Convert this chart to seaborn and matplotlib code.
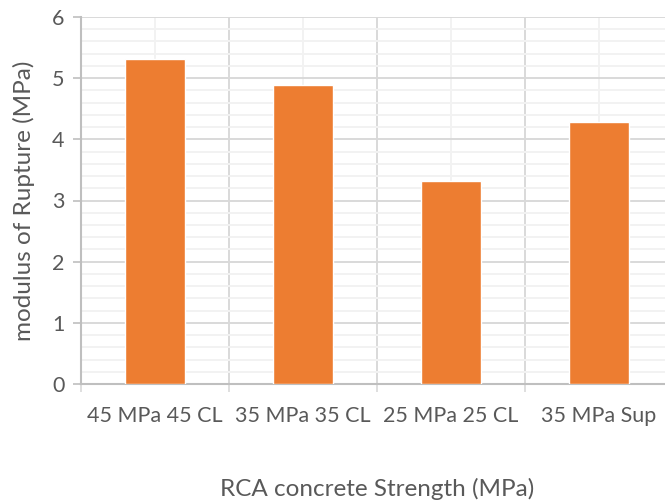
import matplotlib
matplotlib.use("Agg")
import matplotlib.pyplot as plt
from matplotlib.ticker import MultipleLocator, FixedLocator
import seaborn as sns

categories = ["45 MPa 45 CL", "35 MPa 35 CL", "25 MPa 25 CL", "35 MPa Sup"]
rupture_modulus = [5.32, 4.89, 3.32, 4.29]

sns.set_theme(style="white")
plt.rcParams["font.family"] = ["Lato", "DejaVu Sans"]

text_color = "#595959"
major_grid = "#D9D9D9"
minor_grid = "#F2F2F2"
bar_color = "#ED7D31"

fig = plt.figure(figsize=(6.65, 5.0), dpi=100)
ax = fig.add_axes([81 / 665, 1 - 384 / 500, (673 - 81) / 665, (384 - 17) / 500])

sns.barplot(x=categories, y=rupture_modulus, color=bar_color, saturation=1,
            width=0.4, ax=ax, zorder=3)

ax.set_xlim(-0.5, len(categories) - 0.5)
ax.set_ylim(0, 6)

# y: integer majors, fifths as minors
ax.yaxis.set_major_locator(MultipleLocator(1))
ax.yaxis.set_minor_locator(MultipleLocator(0.2))

# x: category boundaries as majors, category centres carry labels
ax.xaxis.set_major_locator(FixedLocator([i - 0.5 for i in range(len(categories) + 1)]))
ax.xaxis.set_minor_locator(FixedLocator(list(range(len(categories)))))
ax.set_xticklabels([""] * (len(categories) + 1))
ax.set_xticklabels(categories, minor=True)

ax.grid(which="major", color=major_grid, linewidth=1.4, zorder=0)
ax.grid(which="minor", color=minor_grid, linewidth=1.4, zorder=0)
ax.set_axisbelow(True)

for side in ["top", "right"]:
    ax.spines[side].set_visible(False)
ax.spines["left"].set_color("#BFBFBF")
ax.spines["left"].set_linewidth(1.5)
ax.spines["bottom"].set_color("#BFBFBF")
ax.spines["bottom"].set_linewidth(1.5)

ax.tick_params(axis="y", which="major", left=True, length=6, width=1.2,
               color="#BFBFBF", labelcolor=text_color, labelsize=15.5, pad=6)
ax.tick_params(axis="y", which="minor", left=False)
ax.tick_params(axis="x", which="major", bottom=True, length=6, width=1.2,
               color="#D9D9D9")
ax.tick_params(axis="x", which="minor", bottom=False, length=0,
               labelcolor=text_color, labelsize=15.5, pad=16)

ax.set_xlabel("RCA concrete Strength (MPa)", fontsize=17.5, color=text_color, labelpad=37)
ax.set_ylabel("modulus of Rupture (MPa)", fontsize=17.5, color=text_color, labelpad=12)

fig.savefig("out.png", dpi=100)
